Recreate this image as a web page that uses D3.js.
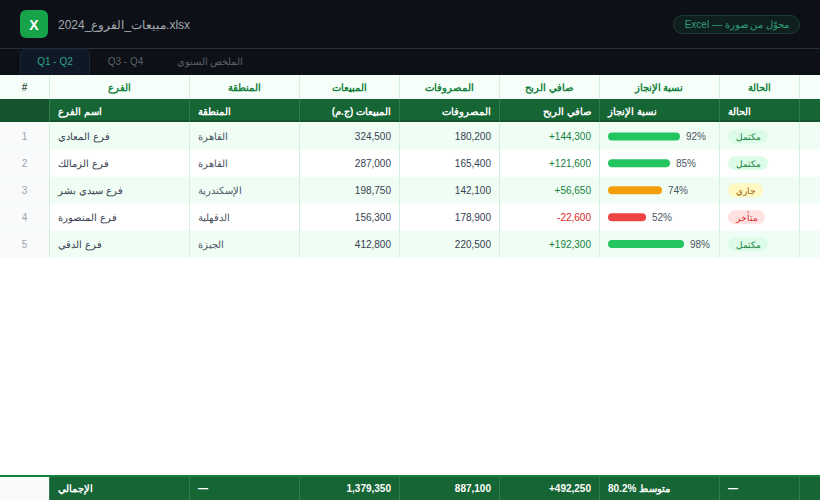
<!DOCTYPE html>
<html lang="ar">
<head>
<meta charset="utf-8">
<title>مبيعات الفروع</title>
<script src="https://cdn.jsdelivr.net/npm/d3@7"></script>
<style>
    html, body { margin: 0; padding: 0; background: #fff; overflow: hidden; }
    svg { display: block; font-family: "Liberation Sans", Arial, sans-serif; }
</style>
</head>
<body>
<div id="sheet"></div>
<script>
const fileName = "مبيعات_الفروع_2024.xlsx";
const badgeLabel = "محوّل من صورة — Excel";
const tabs = ["Q1 - Q2", "Q3 - Q4", "الملخص السنوي"];

const columnLetters = ["#", "الفرع", "المنطقة", "المبيعات", "المصروفات", "صافي الربح", "نسبة الإنجاز", "الحالة"];
const headers = ["", "اسم الفرع", "المنطقة", "المبيعات (ج.م)", "المصروفات", "صافي الربح", "نسبة الإنجاز", "الحالة"];

const rowNumbers = [1, 2, 3, 4, 5];
const branches = ["فرع المعادي", "فرع الزمالك", "فرع سيدي بشر", "فرع المنصورة", "فرع الدقي"];
const regions = ["القاهرة", "القاهرة", "الإسكندرية", "الدقهلية", "الجيزة"];
const sales = [324500, 287000, 198750, 156300, 412800];
const expenses = [180200, 165400, 142100, 178900, 220500];
const profit = [144300, 121600, 56650, -22600, 192300];
const progress = [92, 85, 74, 52, 98];
// bar lengths as drawn, they do not follow the labels exactly
const barFill = [90, 77.5, 67.5, 47.5, 95];
const statuses = ["مكتمل", "مكتمل", "جاري", "متأخر", "مكتمل"];

const totalLabel = "الإجمالي";
const totalSales = 1379350;
const totalExpenses = 887100;
const totalProfit = 492250;
const averageLabel = "80.2% متوسط";

const W = 820, H = 500;
const colEdges = [0, 49, 189, 299, 399, 499, 599, 719, 799, 820];
const fs = 10;

const svg = d3.select("#sheet").append("svg").attr("width", W).attr("height", H);

const num = d3.format(",");
const signed = v => d3.format("+,")(v).replace("−", "-");

const statusStyle = {
    "مكتمل": { bg: "#dcfce7", fg: "#15803d" },
    "جاري": { bg: "#fef9c3", fg: "#a16207" },
    "متأخر": { bg: "#fee2e2", fg: "#dc2626" }
};
const barColor = d => d >= 80 ? "#22c55e" : d >= 60 ? "#f59e0b" : "#ef4444";

// =========================
// top bar and tabs
// =========================
svg.append("rect").attr("width", W).attr("height", 75).attr("fill", "#0d1117");
svg.append("line").attr("x1", 0).attr("x2", W).attr("y1", 48.5).attr("y2", 48.5).attr("stroke", "#2a2f36");

svg.append("rect").attr("x", 20).attr("y", 10).attr("width", 28).attr("height", 28).attr("rx", 6).attr("fill", "#16a34a");
svg.append("text").attr("x", 34).attr("y", 29.5).attr("text-anchor", "middle")
    .attr("fill", "#fff").attr("font-size", 14).attr("font-weight", 700).text("X");

svg.append("text").attr("x", 58).attr("y", 28.5)
    .attr("fill", "#a3a9b1").attr("font-size", 12).text(fileName);

svg.append("rect").attr("x", 673.5).attr("y", 15.5).attr("width", 126).attr("height", 18).attr("rx", 9)
    .attr("fill", "#0f1f1e").attr("stroke", "#1d3b33");
svg.append("text").attr("x", 737).attr("y", 28).attr("text-anchor", "middle").attr("direction", "rtl")
    .attr("fill", "#2f9e78").attr("font-size", 10).text(badgeLabel);

svg.append("path").attr("d", "M20.5,75V55a6,6 0 0 1 6,-6H83.5a6,6 0 0 1 6,6V75")
    .attr("fill", "#0f1826").attr("stroke", "#1a2433");
const tabX = [55, 125.5, 210];
const tabFill = ["#2fa58a", "#5a6068", "#5a6068"];
tabs.forEach((t, i) => {
    svg.append("text").attr("x", tabX[i]).attr("y", 64.5).attr("text-anchor", "middle")
        .attr("fill", tabFill[i]).attr("font-size", fs).text(t);
});

// =========================
// rows
// =========================
const rowY = d3.scaleBand().domain(rowNumbers).range([123, 257.5]);
const barX = d3.scaleLinear().domain([0, 100]).range([0, 80]);

const rows = rowNumbers.map((n, i) => ({
    n, branch: branches[i], region: regions[i], sales: sales[i], expenses: expenses[i],
    profit: profit[i], progress: progress[i], fill: barFill[i], status: statuses[i]
}));

const colLine = "#d4eee0";

// column letter row
svg.append("rect").attr("y", 75).attr("width", W).attr("height", 24).attr("fill", "#f6fef9");
columnLetters.forEach((t, i) => {
    svg.append("text")
        .attr("x", (colEdges[i] + colEdges[i + 1]) / 2).attr("y", 91)
        .attr("text-anchor", "middle").attr("direction", "rtl")
        .attr("fill", i === 0 ? "#4b6356" : "#15803d").attr("font-size", fs).attr("font-weight", 700).text(t);
});

// header row
svg.append("rect").attr("y", 99).attr("width", W).attr("height", 23).attr("fill", "#166534");
svg.append("rect").attr("y", 99).attr("width", 49).attr("height", 23).attr("fill", "#14532d");
svg.append("rect").attr("y", 120).attr("width", W).attr("height", 2).attr("fill", "#14532d");
const headerAlign = ["start", "start", "start", "end", "end", "end", "start", "start"];
headers.forEach((t, i) => {
    const right = headerAlign[i] === "end";
    svg.append("text")
        .attr("x", right ? colEdges[i + 1] - 8 : colEdges[i] + 9).attr("y", 115)
        .attr("text-anchor", right ? "start" : "end").attr("direction", "rtl")
        .attr("fill", "#fff").attr("font-size", fs).attr("font-weight", 700).text(t);
});

// one pixel between the header and the first row
svg.append("rect").attr("y", 122).attr("width", W).attr("height", 1).attr("fill", "#f0fdf4");
svg.append("rect").attr("y", 122).attr("width", 49).attr("height", 1).attr("fill", "#f8fafc");

const row = svg.selectAll("g.row").data(rows).enter().append("g")
    .attr("class", "row")
    .attr("transform", d => `translate(0, ${rowY(d.n)})`);

const rh = rowY.bandwidth();

row.append("rect").attr("width", W).attr("height", rh)
    .attr("fill", (d, i) => i % 2 === 0 ? "#f0fdf4" : "#fff");
row.append("rect").attr("width", 49).attr("height", rh).attr("fill", "#f8fafc");

row.append("text").attr("x", 24.5).attr("y", rh / 2 + 4).attr("text-anchor", "middle")
    .attr("fill", "#9ca3af").attr("font-size", fs).text(d => d.n);

row.append("text").attr("x", 58).attr("y", rh / 2 + 4).attr("text-anchor", "end").attr("direction", "rtl")
    .attr("fill", "#374151").attr("font-size", fs).text(d => d.branch);

row.append("text").attr("x", 198).attr("y", rh / 2 + 4).attr("text-anchor", "end").attr("direction", "rtl")
    .attr("fill", "#4b5563").attr("font-size", fs).text(d => d.region);

row.append("text").attr("x", 391).attr("y", rh / 2 + 4).attr("text-anchor", "end")
    .attr("fill", "#374151").attr("font-size", fs).text(d => num(d.sales));

row.append("text").attr("x", 491).attr("y", rh / 2 + 4).attr("text-anchor", "end")
    .attr("fill", "#374151").attr("font-size", fs).text(d => num(d.expenses));

row.append("text").attr("x", 591).attr("y", rh / 2 + 4).attr("text-anchor", "end")
    .attr("fill", d => d.profit < 0 ? "#dc2626" : "#15803d").attr("font-size", fs)
    .text(d => signed(d.profit));

row.append("rect").attr("x", 608).attr("y", rh / 2 - 4).attr("height", 8).attr("rx", 4)
    .attr("width", d => barX(d.fill)).attr("fill", d => barColor(d.progress));
row.append("text").attr("x", d => 608 + barX(d.fill) + 6).attr("y", rh / 2 + 4)
    .attr("fill", "#4b5563").attr("font-size", fs).text(d => d.progress + "%");

const pillW = { "مكتمل": 40, "جاري": 35, "متأخر": 37 };
row.append("rect").attr("x", 728).attr("y", rh / 2 - 7).attr("height", 14).attr("rx", 7)
    .attr("width", d => pillW[d.status]).attr("fill", d => statusStyle[d.status].bg);
row.append("text").attr("x", d => 728 + pillW[d.status] / 2).attr("y", rh / 2 + 3.5)
    .attr("text-anchor", "middle").attr("direction", "rtl")
    .attr("fill", d => statusStyle[d.status].fg).attr("font-size", 9).text(d => d.status);

// =========================
// totals
// =========================
svg.append("rect").attr("y", 475).attr("width", W).attr("height", 25).attr("fill", "#166534");
svg.append("rect").attr("y", 475).attr("width", W).attr("height", 2).attr("fill", "#15803d");
svg.append("rect").attr("y", 477).attr("width", 50).attr("height", 23).attr("fill", "#f8fafc");

const totalText = [
    { x: 58, anchor: "end", rtl: true, t: totalLabel },
    { x: 198, anchor: "start", t: "—" },
    { x: 391, anchor: "end", t: num(totalSales) },
    { x: 491, anchor: "end", t: num(totalExpenses) },
    { x: 591, anchor: "end", t: signed(totalProfit) },
    { x: 608, anchor: "start", t: averageLabel },
    { x: 728, anchor: "start", t: "—" }
];
totalText.forEach(d => {
    svg.append("text").attr("x", d.x).attr("y", 492).attr("text-anchor", d.anchor)
        .attr("direction", d.rtl ? "rtl" : null)
        .attr("fill", "#fff").attr("font-size", fs).attr("font-weight", 700).text(d.t);
});

// =========================
// column lines
// =========================
colEdges.slice(1, -1).forEach(x => {
    svg.append("line").attr("x1", x + 0.5).attr("x2", x + 0.5).attr("y1", 75).attr("y2", 99).attr("stroke", colLine);
    svg.append("line").attr("x1", x + 0.5).attr("x2", x + 0.5).attr("y1", 99).attr("y2", 122).attr("stroke", "#2e7d52");
    svg.append("line").attr("x1", x + 0.5).attr("x2", x + 0.5).attr("y1", 122).attr("y2", 257.5).attr("stroke", colLine);
    svg.append("line").attr("x1", x + 0.5).attr("x2", x + 0.5).attr("y1", 477).attr("y2", 500).attr("stroke", "#2e7d52");
});
</script>
</body>
</html>
